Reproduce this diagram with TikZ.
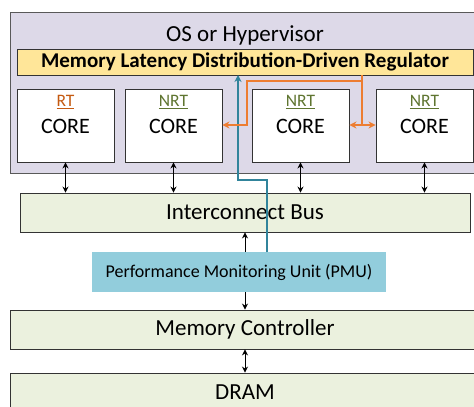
\documentclass[tikz,border=0pt]{standalone}
\usepackage{fontspec}
\setmainfont{Carlito}
\usetikzlibrary{arrows.meta}
\definecolor{osfill}{HTML}{DDD9E8}
\definecolor{regfill}{HTML}{FFE699}
\definecolor{busfill}{HTML}{EBF1DE}
\definecolor{pmufill}{HTML}{92CDDC}
\definecolor{rtcol}{HTML}{C55A11}
\definecolor{nrtcol}{HTML}{5F7530}
\definecolor{orng}{HTML}{ED7D31}
\definecolor{teal}{HTML}{31849B}
\begin{document}
\begin{tikzpicture}[x=1pt,y=-1pt,
  box/.style={draw=black!80,line width=0.9pt,inner sep=0pt},
  corebox/.style={box,fill=white,minimum width=97pt,minimum height=73pt},
  greenbox/.style={box,fill=busfill,minimum height=39pt},
  lbl/.style={inner sep=0pt,font=\fontsize{23}{26}\selectfont},
  tag/.style={inner sep=0pt,font=\fontsize{17.5}{20}\selectfont},
  corelbl/.style={inner sep=0pt,font=\fontsize{22}{26}\selectfont},
  conn/.style={line width=0.9pt,{Stealth[length=6pt,width=6pt]}-{Stealth[length=6pt,width=6pt]}},
  uparrow/.style={line width=0.9pt,-{Stealth[length=6pt,width=6pt]}},
  orline/.style={draw=orng,line width=1.5pt},
  tealline/.style={draw=teal,line width=1.5pt}]
\clip (0,0) rectangle (474,407);
\fill[white] (0,0) rectangle (474,407);
% outer OS box
\node[box,draw=black!65,fill=osfill,minimum width=470pt,minimum height=161pt] (os) at (245,92.5) {};
\node[lbl] (ostitle) at (245,35) {OS or Hypervisor};
% regulator
\node[box,fill=regfill,minimum width=456pt,minimum height=26pt,font=\bfseries\fontsize{21}{24}\selectfont] (reg) at (245,62) {Memory Latency Distribution-Driven Regulator};
% cores
\node[corebox] (c1) at (65.5,125.5) {};
\node[corebox] (c2) at (173.5,125.5) {};
\node[corebox] (c3) at (300.5,125.5) {};
\node[corebox] (c4) at (424.5,125.5) {};
\node[tag,text=rtcol] (t1) at (65.5,102) {\underline{RT}};
\node[tag,text=nrtcol] (t2) at (173.5,102) {\underline{NRT}};
\node[tag,text=nrtcol] (t3) at (300.5,102) {\underline{NRT}};
\node[tag,text=nrtcol] (t4) at (424.5,102) {\underline{NRT}};
\node[corelbl] (k1) at (65.5,126) {CORE};
\node[corelbl] (k2) at (173.5,126) {CORE};
\node[corelbl] (k3) at (300.5,126) {CORE};
\node[corelbl] (k4) at (424.5,126) {CORE};
% bus, pmu, mc, dram
\node[greenbox,minimum width=450pt,lbl] (bus) at (245,212.5) {Interconnect Bus};
\node[fill=pmufill,minimum width=294pt,minimum height=40pt,inner sep=0pt,font=\fontsize{18}{21}\selectfont] (pmu) at (239,272) {Performance Monitoring Unit (PMU)};
\node[greenbox,minimum width=470pt,lbl] (mc) at (245,329.5) {Memory Controller};
\node[greenbox,minimum width=470pt,minimum height=47pt] (dram) at (245,396.5) {};
\node[lbl] (dramt) at (245,392) {DRAM};
% core-bus connectors
\foreach \c in {c1,c2,c3,c4}{
  \draw[conn] (\c.south) -- (\c.south |- bus.north);
}
% pmu arrows
\draw[uparrow] (pmu.north -| bus.south) -- (bus.south);
\draw[uparrow] (pmu.south -| mc.north) -- (mc.north);
\draw[conn] (mc.south) -- (dram.north);
% teal path
\coordinate (tA) at (267,252);
\coordinate (tB) at (267,180);
\coordinate (tC) at (238,180);
\coordinate (tD) at (238,75);
\draw[tealline,-{Stealth[length=7pt,width=7pt]}] (tA) -- (tB) -- (tC) -- (tD);
% orange paths
\coordinate (oA) at (362,75);
\coordinate (oB) at (362,125);
\coordinate (oC) at (362,81);
\coordinate (oD) at (247,81);
\coordinate (oE) at (247,125);
\draw[orline] (oA) -- (oB);
\draw[orline,{Stealth[length=7pt,width=7pt]}-{Stealth[length=7pt,width=7pt]}] (c3.east |- oB) -- (c4.west |- oB);
\draw[orline,-{Stealth[length=7pt,width=7pt]}] (oC) -- (oD) -- (oE) -- (c2.east |- oE);
\end{tikzpicture}
\end{document}
